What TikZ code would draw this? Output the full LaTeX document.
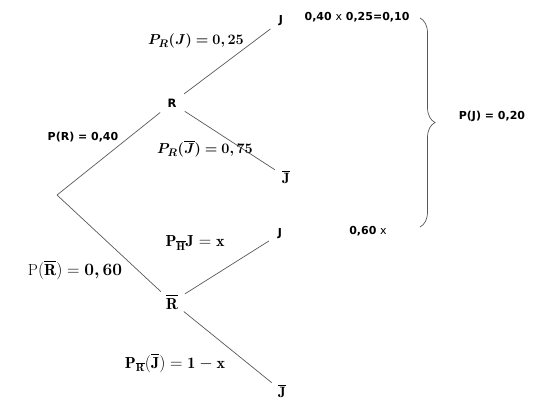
\documentclass[tikz,border=0pt]{standalone}
\usepackage{amsmath}
\usepackage{bm}
\usepackage{fontspec}
\newfontfamily\lblfont{DejaVu Sans}
\usetikzlibrary{decorations.pathreplacing}
\begin{document}
\begin{tikzpicture}[x=1pt,y=-1pt,
  branch/.style={draw=black!65, line width=0.7pt},
  stlbl/.style={font=\lblfont\bfseries\fontsize{11}{13}\selectfont, inner sep=0pt},
  vtx/.style={circle, minimum size=30pt, inner sep=0pt},
  leaf/.style={circle, minimum size=26pt, inner sep=0pt},
  mlbl/.style={font=\fontsize{16}{18}\selectfont, inner sep=0pt},
]
\useasboundingbox (0,0) rectangle (537,404);
\fill[white] (0,0) rectangle (537,404);
% nodes
\coordinate (root) at (57,195);
\node[vtx] (R) at (172,103) {\lblfont\bfseries\fontsize{11.5}{13}\selectfont R};
\node[vtx] (Rb) at (172,302) {\fontsize{16}{18}\selectfont$\overline{\mathbf{R}}$};
\node[leaf] (J1) at (281,21) {\lblfont\bfseries\fontsize{11}{13}\selectfont J};
\node[leaf] (J1b) at (286,177) {\fontsize{15}{17}\selectfont$\overline{\mathbf{J}}$};
\node[leaf] (J2) at (280,234) {\lblfont\bfseries\fontsize{11}{13}\selectfont J};
\node[leaf] (J2b) at (282,391) {\fontsize{15}{17}\selectfont$\overline{\mathbf{J}}$};
% branches
\draw[branch] (root) -- (R);
\draw[branch] (root) -- (Rb);
\draw[branch] (R) -- (J1);
\draw[branch] (R) -- (J1b);
\draw[branch] (Rb) -- (J2);
\draw[branch] (Rb) -- (J2b);
% edge labels
\node[stlbl] (pR) at (83,137) {P(R) = 0,40};
\node[mlbl,font=\fontsize{15}{17}\selectfont] (pRJ) at (196,41) {$\bm{P_R(J) = 0,25}$};
\node[mlbl,font=\fontsize{15}{17}\selectfont] (pRJb) at (205,149) {$\bm{P_R(\overline{J}) = 0,75}$};
\node[mlbl,font=\fontsize{16}{18}\selectfont] (pRb) at (75,270) {$\mathrm{P}(\overline{\mathbf{R}}) = \bm{0,60}$};
\node[mlbl] (pRbJ) at (195,243) {$\mathbf{P_{\overline{H}}J = x}$};
\node[mlbl] (pRbJb) at (175,363) {$\mathbf{P_{\overline{R}}(\overline{J}) = 1 - x}$};
% right side
\node[stlbl] (prod1) at (357,17) {0,40 {\mdseries x} 0,25=0,10};
\node[stlbl] (prod2) at (368,231) {0,60 {\mdseries x}};
\coordinate (bTop) at (420,18);
\coordinate (bBot) at (420,227);
\draw[draw=black!65, line width=0.7pt, decorate, decoration={brace, amplitude=15pt}] (bTop) -- (bBot);
\node[stlbl] (pJ) at (492,116) {P(J) = 0,20};
\end{tikzpicture}
\end{document}
